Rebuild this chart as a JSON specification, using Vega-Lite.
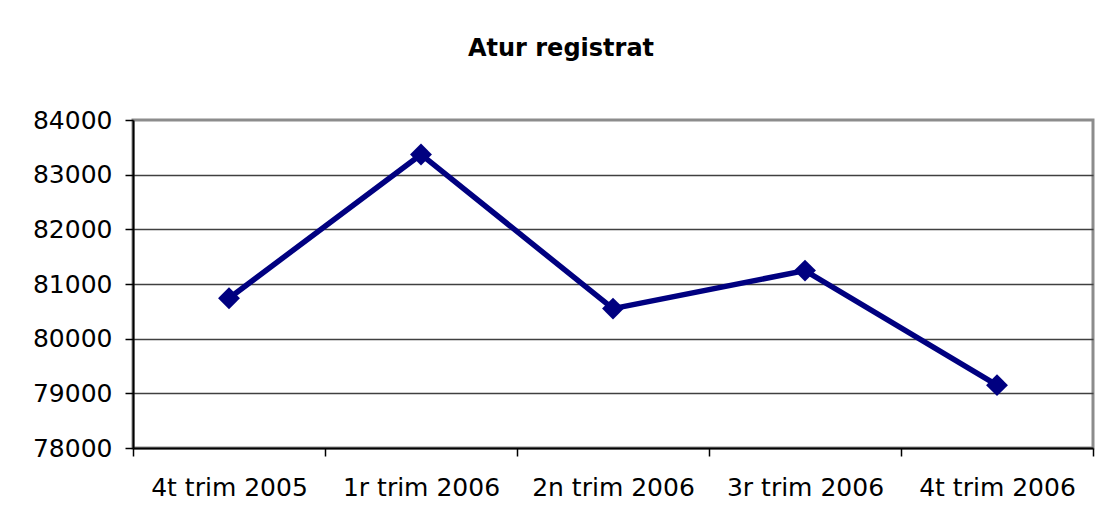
{
  "$schema": "https://vega.github.io/schema/vega-lite/v6.json",
  "width": 960,
  "height": 328,
  "autosize": {"type": "none"},
  "padding": {"left": 133, "top": 120, "right": 8, "bottom": 75},
  "background": "white",
  "title": {
    "text": "Atur registrat",
    "font": "DejaVu Sans",
    "fontSize": 24,
    "fontWeight": "bold",
    "color": "black",
    "frame": "group",
    "anchor": "middle",
    "baseline": "alphabetic",
    "dx": -52,
    "offset": 28
  },
  "data": {
    "values": [
      {"periode": "4t trim 2005", "atur": 80740},
      {"periode": "1r trim 2006", "atur": 83370},
      {"periode": "2n trim 2006", "atur": 80550},
      {"periode": "3r trim 2006", "atur": 81245},
      {"periode": "4t trim 2006", "atur": 79150}
    ]
  },
  "encoding": {
    "x": {
      "field": "periode",
      "type": "nominal",
      "sort": null,
      "scale": {"paddingInner": 0, "paddingOuter": 0},
      "axis": {
        "title": null,
        "labelAngle": 0,
        "tickBand": "extent",
        "tickSize": 8,
        "tickColor": "black",
        "tickWidth": 1.5,
        "domainColor": "black",
        "domainWidth": 2,
        "labelPadding": 19,
        "labelFont": "DejaVu Sans",
        "labelFontSize": 25,
        "labelColor": "black",
        "grid": false
      }
    },
    "y": {
      "field": "atur",
      "type": "quantitative",
      "scale": {"domain": [78000, 84000], "nice": false, "zero": false},
      "axis": {
        "title": null,
        "values": [78000, 79000, 80000, 81000, 82000, 83000, 84000],
        "format": "d",
        "tickSize": 8,
        "tickColor": "black",
        "tickWidth": 1.5,
        "domainColor": "black",
        "domainWidth": 2,
        "labelPadding": 13,
        "labelFont": "DejaVu Sans",
        "labelFontSize": 25,
        "labelColor": "black",
        "grid": true,
        "gridColor": "#404040",
        "gridWidth": 1.5,
        "gridOpacity": {"condition": {"test": "datum.value == 84000 || datum.value == 78000", "value": 0}, "value": 1}
      }
    }
  },
  "layer": [
    {
      "mark": {"type": "line", "color": "#000080", "strokeWidth": 5.5}
    },
    {
      "mark": {"type": "point", "shape": "diamond", "filled": true, "color": "#000080", "size": 480, "opacity": 1}
    }
  ],
  "config": {
    "view": {"stroke": "#8c8c8c", "strokeWidth": 3}
  }
}
